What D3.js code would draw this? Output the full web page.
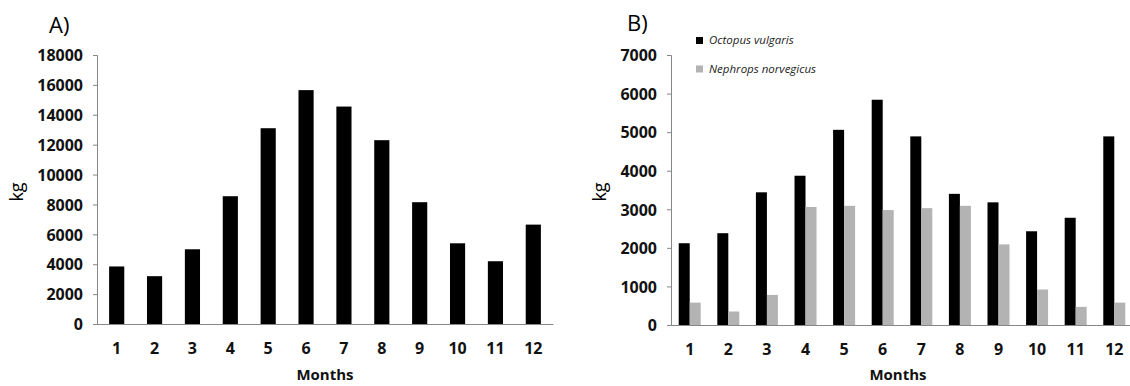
<!DOCTYPE html>
<html>
<head>
<meta charset="utf-8">
<script src="https://cdn.jsdelivr.net/npm/d3@7"></script>
<style>
  body { margin: 0; background: #fff; }
  svg { display: block; }
  .tick text { font-family: "Open Sans", sans-serif; font-weight: 700; font-size: 16px; fill: #111; }
  .domain, .tick line { stroke: #878787; }
</style>
</head>
<body>
<svg id="chart" width="1130" height="386"></svg>
<script>
const months = ["1", "2", "3", "4", "5", "6", "7", "8", "9", "10", "11", "12"];
// panel A: total landings
const totalKg = [3850, 3200, 5000, 8550, 13100, 15650, 14550, 12300, 8150, 5400, 4200, 6650];
const ticksA = [0, 2000, 4000, 6000, 8000, 10000, 12000, 14000, 16000, 18000];
// panel B: by species
const species = ["Octopus vulgaris", "Nephrops norvegicus"];
const octopusKg = [2120, 2380, 3440, 3870, 5060, 5840, 4890, 3400, 3180, 2430, 2780, 4890];
const nephropsKg = [580, 350, 780, 3060, 3090, 2980, 3030, 3090, 2090, 920, 470, 580];
const ticksB = [0, 1000, 2000, 3000, 4000, 5000, 6000, 7000];
const colors = ["#000000", "#b3b3b3"];

const svg = d3.select("#chart");
const font = '"Open Sans", sans-serif';

function drawAxes(g, x, y, ticks, left, zeroY, midX) {
  g.append("g")
    .attr("transform", `translate(${left},0)`)
    .call(d3.axisLeft(y).tickValues(ticks).tickSize(4).tickPadding(10).tickFormat(d3.format("d")))
    .call(a => a.selectAll(".tick text").attr("dy", "0.36em"));
  g.append("g")
    .attr("transform", `translate(0,${zeroY})`)
    .call(d3.axisBottom(x).tickSize(0).tickPadding(24).tickSizeOuter(0))
    .call(a => a.selectAll(".tick text").attr("dy", "0.36em"));
  g.append("text")
    .attr("x", midX).attr("y", 380)
    .attr("text-anchor", "middle")
    .attr("font-family", font).attr("font-weight", 700).attr("font-size", 15)
    .attr("fill", "#111")
    .text("Months");
}

// ---- panel A ----
const xA = d3.scaleBand().domain(months).range([97, 553]).paddingInner(0.6).paddingOuter(0.32);
const yA = d3.scaleLinear().domain([0, 18000]).range([324, 55]);
const gA = svg.append("g");

gA.selectAll("rect.bar")
  .data(totalKg)
  .join("rect")
  .attr("class", "bar")
  .attr("x", (d, i) => xA(months[i]))
  .attr("y", d => yA(d))
  .attr("width", xA.bandwidth())
  .attr("height", d => yA(0) - yA(d))
  .attr("fill", "#000");

drawAxes(gA, xA, yA, ticksA, 97, 324, 325);

gA.append("text")
  .attr("x", 49).attr("y", 33)
  .attr("font-family", font).attr("font-size", 22)
  .text("A)");
gA.append("text")
  .attr("transform", "translate(23,192) rotate(-90)")
  .attr("text-anchor", "middle")
  .attr("font-family", font).attr("font-size", 18)
  .text("kg");

// ---- panel B ----
const xB = d3.scaleBand().domain(months).range([671, 1133]).paddingInner(0.43).paddingOuter(0.2);
const xSub = d3.scaleBand().domain(species).range([0, xB.bandwidth()]);
const yB = d3.scaleLinear().domain([0, 7000]).range([325, 55]);
const gB = svg.append("g");

const rows = months.map((m, i) => ({ month: m, values: [octopusKg[i], nephropsKg[i]] }));

gB.selectAll("g.month")
  .data(rows)
  .join("g")
  .attr("class", "month")
  .attr("transform", d => `translate(${xB(d.month)},0)`)
  .selectAll("rect")
  .data(d => d.values.map((v, k) => ({ key: species[k], value: v, color: colors[k] })))
  .join("rect")
  .attr("x", d => xSub(d.key))
  .attr("y", d => yB(d.value))
  .attr("width", xSub.bandwidth())
  .attr("height", d => yB(0) - yB(d.value))
  .attr("fill", d => d.color);

drawAxes(gB, xB, yB, ticksB, 671, 325, 898);

gB.append("text")
  .attr("x", 627).attr("y", 31)
  .attr("font-family", font).attr("font-size", 22)
  .text("B)");
gB.append("text")
  .attr("transform", "translate(606,192) rotate(-90)")
  .attr("text-anchor", "middle")
  .attr("font-family", font).attr("font-size", 18)
  .text("kg");

const legend = gB.selectAll("g.legend")
  .data(species)
  .join("g")
  .attr("class", "legend")
  .attr("transform", (d, i) => `translate(696,${37 + i * 28.5})`);
legend.append("rect")
  .attr("width", 7).attr("height", 7)
  .attr("fill", (d, i) => colors[i]);
legend.append("text")
  .attr("x", 13).attr("y", 7)
  .attr("font-family", font).attr("font-style", "italic").attr("font-size", 11.5)
  .attr("fill", "#222")
  .text(d => d);
</script>
</body>
</html>
